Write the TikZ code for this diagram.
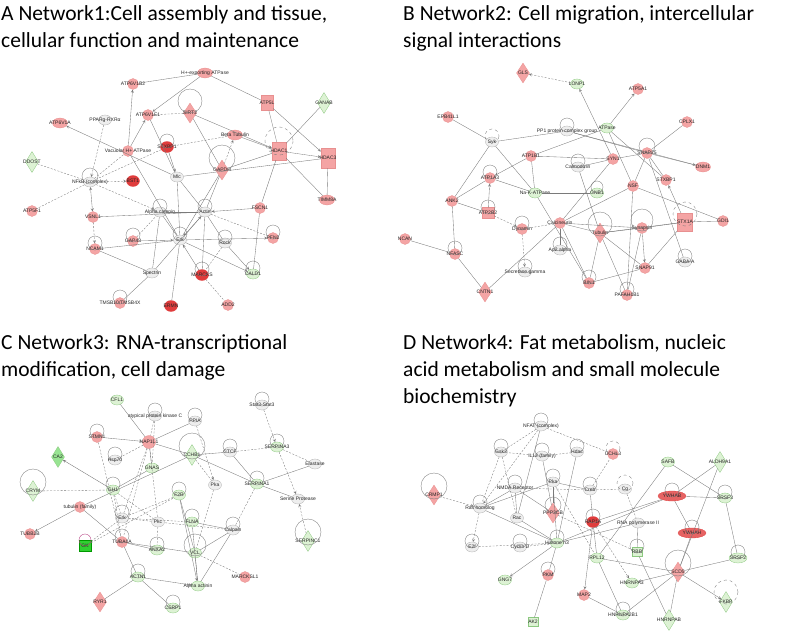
\documentclass[tikz,border=0pt]{standalone}
\usepackage{fontspec}
\setmainfont{Carlito}
\newfontfamily\genefont{Liberation Sans}
\usetikzlibrary{arrows}
\usetikzlibrary{shapes.geometric}

\definecolor{pinkfill}{HTML}{F4A4A4}
\definecolor{pinkline}{HTML}{E89090}
\definecolor{redfill}{HTML}{E03C3C}
\definecolor{greenfill}{HTML}{DDF2D4}
\definecolor{greenline}{HTML}{8CC880}
\definecolor{brightgreen}{HTML}{30D030}
\definecolor{grayfill}{HTML}{EEEEEE}
\definecolor{grayline}{HTML}{B0B0B0}
\definecolor{edgegray}{HTML}{7A7A7A}

\tikzset{
  glab/.style={font=\genefont\fontsize{5}{6}\selectfont, inner sep=0pt, text=black!85},
  gene/.style={inner sep=0pt, line width=0.3pt, label={[glab]center:#1}},
  pc/.style={gene=#1, circle, minimum size=11, fill=pinkfill, draw=pinkline},
  pe/.style={gene=#1, ellipse, minimum width=15, minimum height=10, fill=pinkfill, draw=pinkline},
  rc/.style={gene=#1, ellipse, minimum width=13, minimum height=11, fill=redfill, draw=redfill},
  re/.style={gene=#1, ellipse, minimum width=28, minimum height=10, fill=redfill!80, draw=redfill},
  pd/.style={gene=#1, diamond, aspect=0.6, minimum width=13, minimum height=20, fill=pinkfill, draw=pinkline},
  ps/.style={gene=#1, rectangle, minimum width=12, minimum height=15, fill=pinkfill, draw=pinkline},
  gc/.style={gene=#1, ellipse, minimum width=13, minimum height=10, fill=greenfill, draw=greenline},
  gd/.style={gene=#1, diamond, aspect=0.6, minimum width=13, minimum height=21, fill=greenfill, draw=greenline},
  gs/.style={gene=#1, rectangle, minimum width=10, minimum height=9, fill=greenfill, draw=greenline},
  bg/.style={gene=#1, rectangle, minimum width=12, minimum height=11, fill=brightgreen, draw=green!60!black},
  oc/.style={gene=#1, ellipse, minimum width=13, minimum height=10, fill=grayfill, draw=grayline},
  ed/.style={draw=edgegray, line width=0.35pt},
  dl/.style={ed, dash pattern=on 2pt off 1.5pt},
  lp/.style={draw=edgegray, line width=0.35pt},
  ttl/.style={anchor=base west, inner sep=0pt, font=\fontsize{21.5}{25}\selectfont},
  >=stealth
}

\begin{document}
\begin{tikzpicture}[x=1pt,y=-1pt]
\useasboundingbox (0,0) rectangle (790,634);

% titles
\node[ttl] (ttlA1) at (1,21) {A Network1:Cell assembly and tissue,};
\node[ttl] (ttlA2) at (1,48) {cellular function and maintenance};
\node[ttl] (ttlB1) at (403,21) {B Network2: Cell migration, intercellular};
\node[ttl] (ttlB2) at (403,48) {signal interactions};
\node[ttl] (ttlC1) at (1,349) {C Network3: RNA-transcriptional};
\node[ttl] (ttlC2) at (1,376) {modification, cell damage};
\node[ttl] (ttlD1) at (403,349) {D Network4: Fat metabolism, nucleic};
\node[ttl] (ttlD2) at (403,376) {acid metabolism and small molecule};
\node[ttl] (ttlD3) at (403,403) {biochemistry};

% ---------------- network 1
\node[pe=H+-exporting ATPase] (A-hatp) at (205,73) {};
\node[pc=ATP6V1B2] (A-b2) at (133,84) {};
\node[pc=ATP6V1E1] (A-e1) at (148,115) {};
\node[pd=SIRT2] (A-sirt2) at (190,113) {};
\node[pe=ATP6V1A] (A-v1a) at (60,123) {};
\node[oc=PPARg-RXRα] (A-ppar) at (105,120) {};
\node[pc=Vacuolar H+ ATPase] (A-vac) at (128,151) {};
\node[rc=STXBP1] (A-stx) at (167,147) {};
\node[gd=DDOST] (A-ddost) at (32,162) {};
\node[oc=NFkB (complex)] (A-nfkb) at (90,182) {};
\node[rc=BST1] (A-bst) at (133,181) {};
\node[oc=Mlc] (A-mlc) at (177,177) {};
\node[pe=Beta Tubulin] (A-beta) at (235,135) {};
\node[pd=GAPDH] (A-gapdh) at (222,170) {};
\node[ps=ATP5L] (A-atp5l) at (267,103) {};
\node[gd=GANAB] (A-ganab) at (324,103) {};
\node[ps=HDAC1, minimum width=14, minimum height=18] (A-hdac1) at (279,151) {};
\node[ps=HDAC3, minimum width=14, minimum height=20] (A-hdac3) at (328,158) {};
\node[pe=TIMM8A] (A-timm) at (327,200) {};
\node[pc=ATP5F1] (A-atp5f1) at (32,211) {};
\node[pc=VSNL1] (A-vsnl1) at (93,217) {};
\node[oc=Alpha catenin] (A-alpha) at (160,212) {};
\node[oc=Actin] (A-actin) at (205,212) {};
\node[pc=FSCN1] (A-fscn1) at (260,208) {};
\node[pc=NCAM1] (A-ncam1) at (95,249) {};
\node[pc=GAP43] (A-gap43) at (133,241) {};
\node[oc=Erk] (A-erk) at (180,240) {};
\node[oc=Rock] (A-rock) at (225,243) {};
\node[pc=PFN2] (A-pfn2) at (273,238) {};
\node[oc=Spectrin] (A-spec) at (152,273) {};
\node[rc=MARCKS] (A-marcks) at (202,275) {};
\node[gc=CALD1] (A-cald1) at (253,274) {};
\node[pc=TMSB10/TMSB4X] (A-tmsb) at (120,303) {};
\node[rc=ERMN] (A-ermn) at (171,306) {};
\node[pc=ADD2] (A-add2) at (228,305) {};

\draw[lp] (A-sirt2) ++(0,-12) circle[radius=12];
\draw[lp] (A-stx) ++(0,-6) circle[radius=7];
\draw[lp] (A-nfkb) ++(0,-6) circle[radius=8];
\draw[lp] (A-gapdh) ++(0,-12) circle[radius=13];
\draw[lp, dashed] (A-hdac1) ++(0,-10) circle[radius=14];
\draw[lp] (A-alpha) ++(0,-6) circle[radius=7];
\draw[lp] (A-actin) ++(0,-6) circle[radius=7];
\draw[lp] (A-ncam1) ++(0,-6) circle[radius=7];
\draw[lp] (A-gap43) ++(0,-6) circle[radius=7];
\draw[lp] (A-erk) ++(0,-6) circle[radius=7];
\draw[lp] (A-rock) ++(0,-6) circle[radius=7];
\draw[lp] (A-pfn2) ++(0,-6) circle[radius=7];
\draw[lp] (A-marcks) ++(0,-6) circle[radius=7];
\draw[lp] (A-cald1) ++(0,-6) circle[radius=7];
\draw[lp] (A-tmsb) ++(0,-6) circle[radius=7];

\draw[ed] (A-hatp) -- (A-b2);
\draw[ed,->] (A-hatp) -- (A-e1);
\draw[ed] (A-hatp) -- (A-atp5l);
\draw[ed,->] (A-vac) -- (A-b2);
\draw[ed,->] (A-vac) -- (A-e1);
\draw[ed] (A-e1) -- (A-mlc);
\draw[dl] (A-e1) -- (A-sirt2);
\draw[ed,->] (A-mlc) -- (A-v1a);
\draw[dl,->] (A-ppar) -- (A-nfkb);
\draw[dl] (A-ddost) -- (A-nfkb);
\draw[dl,->] (A-nfkb) -- (A-bst);
\draw[dl] (A-nfkb) -- (A-vac);
\draw[dl] (A-nfkb) -- (A-stx);
\draw[dl] (A-nfkb) -- (A-atp5f1);
\draw[ed,<->] (A-nfkb) -- (A-vsnl1);
\draw[dl,->] (A-nfkb) -- (A-alpha);
\draw[dl,->] (A-vsnl1) -- (A-ncam1);
\draw[ed] (A-vsnl1) -- (A-actin);
\draw[ed] (A-ncam1) -- (A-spec);
\draw[ed] (A-ncam1) -- (A-erk);
\draw[dl] (A-gap43) -- (A-alpha);
\draw[ed,->] (A-gap43) -- (A-erk);
\draw[ed] (A-spec) -- (A-tmsb);
\draw[ed] (A-spec) -- (A-alpha);
\draw[ed] (A-spec) -- (A-actin);
\draw[ed] (A-ermn) -- (A-erk);
\draw[ed] (A-mlc) -- (A-erk);
\draw[ed,->] (A-stx) -- (A-mlc);
\draw[dl] (A-stx) -- (A-beta);
\draw[ed,->] (A-sirt2) -- (A-hdac1);
\draw[ed] (A-sirt2) -- (A-gapdh);
\draw[ed,->] (A-beta) -- (A-hdac1);
\draw[dl,->] (A-gapdh) -- (A-beta);
\draw[ed] (A-atp5l) -- (A-hdac1);
\draw[ed,->] (A-atp5l) -- (A-hdac3);
\draw[ed] (A-ganab) -- (A-hdac1);
\draw[ed,->] (A-hdac1) -- (A-hdac3);
\draw[ed] (A-hdac1) -- (A-gapdh);
\draw[ed] (A-hdac3) -- (A-mlc);
\draw[ed] (A-hdac1) -- (A-fscn1);
\draw[ed] (A-hdac1) -- (A-timm);
\draw[ed] (A-hdac3) -- (A-timm);
\draw[ed] (A-gapdh) -- (A-actin);
\draw[ed] (A-gapdh) -- (A-erk);
\draw[ed,->] (A-fscn1) -- (A-actin);
\draw[ed] (A-fscn1) -- (A-cald1);
\draw[dl] (A-actin) -- (A-pfn2);
\draw[ed,->] (A-erk) -- (A-pfn2);
\draw[ed] (A-actin) -- (A-marcks);
\draw[ed] (A-actin) -- (A-rock);
\draw[ed,->] (A-rock) -- (A-cald1);
\draw[ed,->] (A-erk) -- (A-cald1);
\draw[ed,<-] (A-erk) -- (A-marcks);
\draw[dl] (A-marcks) -- (A-add2);
\draw[ed,<->] (A-actin) -- (A-erk);
\draw[ed] (A-actin) -- (A-alpha);
\draw[ed] (A-alpha) -- (A-erk);
\draw[ed] (A-mlc) -- (A-actin);
\draw[ed] (A-vac) -- (A-erk);
\draw[dl] (A-rock) -- (A-marcks);

% ---------------- network 2
\node[pd=GLS] (B-gls) at (523,73) {};
\node[gc=LONP1] (B-lonp1) at (577,84) {};
\node[pc=ATP5A1] (B-atp5a1) at (638,89) {};
\node[pc=EPB41L1] (B-epb) at (448,117) {};
\node[pc=CPLX1] (B-cplx1) at (687,122) {};
\node[gc=ATPase] (B-atpase) at (607,128) {};
\node[oc=PP1 protein complex group] (B-pp1) at (567,131) {};
\node[oc=Syk] (B-syk) at (492,142) {};
\node[pc=SNAP25] (B-snap25) at (647,153) {};
\node[pc=SYN1] (B-syn1) at (613,159) {};
\node[pc=ATP1B1] (B-atp1b1) at (531,156) {};
\node[oc=Calmodulin] (B-calm) at (578,167) {};
\node[pe=DNM1] (B-dnm1) at (703,167) {};
\node[pc=ATP1A3] (B-atp1a3) at (490,178) {};
\node[pc=STXBP1] (B-stxbp1) at (666,180) {};
\node[pc=NSF] (B-nsf) at (633,186) {};
\node[gc=Na-K-ATPase] (B-nak) at (535,193) {};
\node[gc=GNB1] (B-gnb1) at (597,193) {};
\node[pc=ANK2] (B-ank2) at (452,201) {};
\node[ps=ATP2B2, minimum height=11] (B-atp2b2) at (488,213) {};
\node[ps=STX1A, minimum width=15, minimum height=18] (B-stx1a) at (685,222) {};
\node[pc=GDI1] (B-gdi1) at (723,221) {};
\node[pc=Calcineurin] (B-calc) at (560,223) {};
\node[pc=Synapsin] (B-syna) at (642,228) {};
\node[pc=Dynamin] (B-dyn) at (522,229) {};
\node[pd=Tubulin] (B-tub) at (600,233) {};
\node[pc=NCAN] (B-ncan) at (405,239) {};
\node[oc=Ap2 alpha] (B-ap2) at (560,250) {};
\node[pc=NFASC] (B-nfasc) at (455,254) {};
\node[oc=GABA-A] (B-gaba) at (685,262) {};
\node[pc=SNAP91] (B-snap91) at (645,268) {};
\node[oc=Secretase gamma] (B-sec) at (525,272) {};
\node[pc=BIN1] (B-bin1) at (589,283) {};
\node[pd=CNTN1] (B-cntn1) at (485,292) {};
\node[pc=PAFAH1B1] (B-pafah) at (627,295) {};

\draw[lp] (B-pp1) ++(0,-6) circle[radius=7];
\draw[lp, dashed] (B-syk) ++(0,-6) circle[radius=7];
\draw[lp] (B-snap25) ++(0,-7) circle[radius=8];
\draw[lp] (B-calm) ++(0,-6) circle[radius=7];
\draw[lp] (B-atp1a3) ++(0,-6) circle[radius=7];
\draw[lp] (B-gnb1) ++(0,-6) circle[radius=6];
\draw[lp] (B-atp2b2) ++(0,-6) circle[radius=7];
\draw[lp, dashed] (B-stx1a) ++(0,-8) circle[radius=12];
\draw[lp] (B-syna) ++(0,-8) circle[radius=11];
\draw[lp] (B-dyn) ++(0,-6) circle[radius=7];
\draw[lp] (B-tub) ++(0,-9) circle[radius=12];
\draw[lp] (B-ap2) ++(0,-6) circle[radius=7];
\draw[lp] (B-nfasc) ++(0,-6) circle[radius=7];
\draw[lp] (B-gaba) ++(0,-6) circle[radius=7];
\draw[lp] (B-sec) ++(0,-6) circle[radius=7];
\draw[lp] (B-bin1) ++(0,-6) circle[radius=7];
\draw[lp] (B-pafah) ++(0,-6) circle[radius=7];

\draw[dl,->] (B-lonp1) -- (B-gls);
\draw[ed,<-] (B-lonp1) -- (B-syn1);
\draw[ed] (B-epb) -- (B-syk);
\draw[ed] (B-syk) -- (B-pp1);
\draw[ed] (B-syk) -- (B-ank2);
\draw[ed] (B-syk) -- (B-nak);
\draw[ed,->] (B-atpase) -- (B-atp5a1);
\draw[ed] (B-atpase) -- (B-atp1b1);
\draw[ed] (B-atpase) -- (B-stxbp1);
\draw[ed] (B-atpase) -- (B-nsf);
\draw[ed] (B-cplx1) -- (B-snap25);
\draw[ed,->] (B-snap25) -- (B-dnm1);
\draw[ed] (B-snap25) -- (B-syn1);
\draw[ed] (B-snap25) -- (B-stxbp1);
\draw[ed] (B-snap25) -- (B-nsf);
\draw[ed] (B-pp1) -- (B-snap25);
\draw[ed] (B-pp1) -- (B-dnm1);
\draw[ed,->] (B-atp1b1) -- (B-atp1a3);
\draw[ed] (B-atp1b1) -- (B-nak);
\draw[ed] (B-atp1b1) -- (B-syn1);
\draw[ed] (B-calm) -- (B-syn1);
\draw[ed] (B-calm) -- (B-tub);
\draw[ed] (B-ank2) -- (B-atp2b2);
\draw[ed] (B-ank2) -- (B-atp1a3);
\draw[ed] (B-ank2) -- (B-nfasc);
\draw[ed,->] (B-atp2b2) -- (B-atp1a3);
\draw[dl,->] (B-atp2b2) -- (B-dyn);
\draw[ed] (B-nak) -- (B-atp1a3);
\draw[ed] (B-nak) -- (B-gnb1);
\draw[ed] (B-nak) -- (B-bin1);
\draw[dl,->] (B-dyn) -- (B-sec);
\draw[dl] (B-dyn) -- (B-calc);
\draw[ed] (B-ncan) -- (B-nfasc);
\draw[ed] (B-nfasc) -- (B-cntn1);
\draw[ed] (B-cntn1) -- (B-calc);
\draw[ed] (B-calc) -- (B-bin1);
\draw[ed] (B-calc) -- (B-tub);
\draw[ed] (B-calc) -- (B-syna);
\draw[ed] (B-calc) -- (B-nsf);
\draw[ed] (B-calc) -- (B-ap2);
\draw[ed] (B-calc) -- (B-syn1);
\draw[ed] (B-tub) -- (B-syna);
\draw[ed] (B-tub) -- (B-bin1);
\draw[ed] (B-tub) -- (B-pafah);
\draw[ed] (B-tub) -- (B-stx1a);
\draw[ed] (B-tub) -- (B-snap91);
\draw[ed,->] (B-syna) -- (B-snap91);
\draw[ed] (B-syna) -- (B-stx1a);
\draw[ed] (B-syna) -- (B-pafah);
\draw[ed] (B-stx1a) -- (B-gdi1);
\draw[ed] (B-stx1a) -- (B-snap91);
\draw[ed,->] (B-stx1a) -- (B-stxbp1);
\draw[ed] (B-gaba) -- (B-snap25);
\draw[ed] (B-snap91) -- (B-bin1);
\draw[ed] (B-pafah) -- (B-nsf);
\draw[ed] (B-nsf) -- (B-gdi1);

% ---------------- network 3
\node[gc=CFL1] (C-cfl) at (117,400) {};
\node[oc=atypical protein kinase C] (C-apkc) at (155,416) {};
\node[oc=PPIA] (C-ppia) at (195,421) {};
\node[oc=Stat3-Stat3] (C-stat3) at (262,405) {};
\node[pc=STMN1] (C-stmn1) at (97,437) {};
\node[pc=NAP1L1, minimum size=13] (C-nap) at (149,442) {};
\node[gd=CCHB1] (C-cchb1) at (192,455) {};
\node[oc=CTCF] (C-ctcf) at (230,452) {};
\node[gc=SERPINA3] (C-serpa3) at (277,447) {};
\node[gd=CA2, fill=greenfill!60!brightgreen] (C-ca2) at (58,457) {};
\node[oc=Hsp70] (C-hsp) at (115,460) {};
\node[gc=GNAS] (C-gnas) at (152,468) {};
\node[oc=Elastase] (C-elast) at (315,464) {};
\node[oc=Pka] (C-pka) at (215,485) {};
\node[gc=SERPINA1] (C-serpa1) at (257,484) {};
\node[gd=CRYM] (C-crym) at (33,491) {};
\node[gc=GH1] (C-gh1) at (113,490) {};
\node[gc=F2R] (C-f2r) at (179,495) {};
\node[oc=Serine Protease] (C-serp) at (298,499) {};
\node[pc=tubulin (family)] (C-tubf) at (80,507) {};
\node[oc=Erk] (C-erk) at (122,518) {};
\node[oc=Pkc] (C-pkc) at (158,522) {};
\node[gc=FLNA] (C-flna) at (192,522) {};
\node[oc=Calpain] (C-calp) at (233,530) {};
\node[pc=TUBB2B] (C-tubb) at (30,534) {};
\node[gd=SERPINC1] (C-serpc1) at (308,541) {};
\node[pc=TUBA1A] (C-tuba) at (122,542) {};
\node[bg=GK] (C-gk) at (85,546) {};
\node[gc=ANXA2] (C-anxa2) at (157,550) {};
\node[gc=VCL] (C-vcl) at (195,553) {};
\node[gc=ACTN1] (C-actn) at (138,577) {};
\node[gc=Alpha actinin] (C-aact) at (198,586) {};
\node[pc=MARCKSL1] (C-marcksl1) at (245,577) {};
\node[pd=RYR1] (C-ryr) at (100,602) {};
\node[gc=CSRP1] (C-csrp1) at (173,608) {};

\draw[lp] (C-apkc) ++(0,-6) circle[radius=7];
\draw[lp] (C-ppia) ++(0,-6) circle[radius=7];
\draw[lp] (C-stat3) ++(0,-6) circle[radius=7];
\draw[lp] (C-stmn1) ++(0,-6) circle[radius=7];
\draw[lp] (C-cchb1) ++(0,-9) circle[radius=13];
\draw[lp] (C-ctcf) ++(0,-6) circle[radius=7];
\draw[lp] (C-serpa3) ++(0,-6) circle[radius=7];
\draw[lp] (C-hsp) ++(0,-6) circle[radius=7];
\draw[lp] (C-serpa1) ++(0,-6) circle[radius=7];
\draw[lp] (C-crym) ++(0,-9) circle[radius=13];
\draw[lp] (C-gh1) ++(0,-6) circle[radius=7];
\draw[lp] (C-f2r) ++(0,-6) circle[radius=7];
\draw[lp] (C-erk) ++(0,-6) circle[radius=7];
\draw[lp] (C-flna) ++(0,-6) circle[radius=7];
\draw[lp] (C-calp) ++(0,-6) circle[radius=7];
\draw[lp] (C-serpc1) ++(0,-9) circle[radius=13];
\draw[lp] (C-tuba) ++(0,-6) circle[radius=7];
\draw[lp, draw=magenta!70!black] (C-gk) ++(0,-6) circle[radius=6];
\draw[lp] (C-anxa2) ++(0,-6) circle[radius=7];
\draw[lp] (C-vcl) ++(0,-8) circle[radius=11];
\draw[lp] (C-actn) ++(0,-6) circle[radius=7];
\draw[lp] (C-csrp1) ++(0,-6) circle[radius=7];

\draw[ed] (C-cfl) -- (C-nap);
\draw[dl] (C-apkc) -- (C-nap);
\draw[dl] (C-apkc) -- (C-gnas);
\draw[ed] (C-ppia) -- (C-nap);
\draw[dl,->] (C-ppia) -- (C-pka);
\draw[ed,->] (C-stmn1) -- (C-nap);
\draw[dl] (C-stmn1) -- (C-tuba);
\draw[ed] (C-nap) -- (C-cchb1);
\draw[ed] (C-nap) -- (C-gnas);
\draw[dl] (C-nap) -- (C-erk);
\draw[dl] (C-nap) -- (C-pkc);
\draw[dl] (C-nap) -- (C-tuba);
\draw[dl] (C-nap) -- (C-hsp);
\draw[ed,->] (C-gh1) -- (C-ca2);
\draw[dl] (C-crym) -- (C-gh1);
\draw[ed] (C-tubf) -- (C-cchb1);
\draw[ed,->] (C-tubf) -- (C-tubb);
\draw[ed] (C-tubf) -- (C-tuba);
\draw[dl] (C-gh1) -- (C-erk);
\draw[dl] (C-gh1) -- (C-tuba);
\draw[ed] (C-gh1) -- (C-gnas);
\draw[dl] (C-gh1) -- (C-pkc);
\draw[dl] (C-gk) -- (C-f2r);
\draw[dl] (C-gk) -- (C-erk);
\draw[dl] (C-erk) -- (C-pkc);
\draw[dl] (C-erk) -- (C-flna);
\draw[ed] (C-tuba) -- (C-anxa2);
\draw[ed] (C-tuba) -- (C-actn);
\draw[ed] (C-tuba) -- (C-vcl);
\draw[ed,->] (C-f2r) -- (C-aact);
\draw[ed] (C-f2r) -- (C-vcl);
\draw[dl] (C-f2r) -- (C-erk);
\draw[ed,->] (C-actn) -- (C-aact);
\draw[ed] (C-actn) -- (C-ryr);
\draw[ed] (C-actn) -- (C-csrp1);
\draw[dl,->] (C-stat3) -- (C-serpa3);
\draw[dl,->] (C-serpa3) -- (C-serp);
\draw[dl] (C-serpa3) -- (C-elast);
\draw[dl] (C-serpa3) -- (C-ctcf);
\draw[ed] (C-cchb1) -- (C-serpa1);
\draw[dl] (C-cchb1) -- (C-pka);
\draw[ed] (C-cchb1) -- (C-ctcf);
\draw[ed] (C-ctcf) -- (C-serpa1);
\draw[ed] (C-serpa1) -- (C-elast);
\draw[ed] (C-serpa1) -- (C-serp);
\draw[dl] (C-serpa1) -- (C-calp);
\draw[dl,->] (C-serpc1) -- (C-serp);
\draw[ed] (C-calp) -- (C-flna);
\draw[ed] (C-calp) -- (C-vcl);
\draw[ed] (C-calp) -- (C-aact);
\draw[dl] (C-calp) -- (C-pkc);
\draw[dl] (C-pka) -- (C-vcl);
\draw[dl] (C-vcl) -- (C-marcksl1);
\draw[ed] (C-vcl) -- (C-aact);
\draw[ed] (C-flna) -- (C-aact);
\draw[dl] (C-pkc) -- (C-anxa2);

% ---------------- network 4
\node[oc=NFAT (complex)] (D-nfat) at (541,426) {};
\node[oc=Gsk3] (D-gsk) at (501,452) {};
\node[oc=IL12 (family)] (D-il12) at (542,456) {};
\node[oc=Hdac] (D-hdac) at (577,452) {};
\node[pc=UCHL3] (D-uchl3) at (613,454) {};
\node[gc=SAFB] (D-safb) at (668,462) {};
\node[gd=ALDH9A1] (D-aldh) at (720,462) {};
\node[oc=Pka] (D-pka) at (553,482) {};
\node[oc=NMDA Receptor] (D-nmda) at (515,488) {};
\node[oc=Creb] (D-creb) at (590,490) {};
\node[oc=Cg] (D-cg) at (625,489) {};
\node[pd=CRMP1] (D-crmp1) at (434,495) {};
\node[re=YWHAB] (D-ywhab) at (672,496) {};
\node[gc=SRSF3] (D-srsf3) at (725,498) {};
\node[oc=Ras homolog] (D-ras) at (480,508) {};
\node[pd=PPP3CB] (D-ppp3) at (553,513) {};
\node[oc=Rac] (D-rac) at (517,518) {};
\node[rc=RAP1A] (D-rap1) at (593,522) {};
\node[oc=RNA polymerase II] (D-rnapol) at (638,523) {};
\node[re=YWHAH] (D-ywhah) at (692,533) {};
\node[oc=E2f] (D-e2f) at (472,547) {};
\node[oc=Cyclin D] (D-cyc) at (520,547) {};
\node[gc=Histone h3] (D-hist) at (557,543) {};
\node[gs=RBB] (D-rbb) at (637,552) {};
\node[gc=RPL12] (D-rpl) at (597,558) {};
\node[gc=SRSF2, minimum width=18] (D-srsf2) at (738,558) {};
\node[pd=SCD5] (D-scd5) at (678,572) {};
\node[pc=PKM] (D-pkm) at (548,575) {};
\node[gc=GNG7] (D-gng7) at (505,580) {};
\node[gc=HNRNPA3] (D-hnrnpa3) at (632,583) {};
\node[pc=MAP2] (D-map2) at (584,595) {};
\node[gd=FKBP] (D-fkbp) at (726,602) {};
\node[gc=HNRNPA2B1] (D-a2b1) at (623,615) {};
\node[gd=HNRNPAB] (D-hnrnpab) at (669,620) {};
\node[gs=AK2] (D-ak2) at (533,622) {};

\draw[lp] (D-nfat) ++(0,-6) circle[radius=7];
\draw[lp] (D-gsk) ++(0,-6) circle[radius=7];
\draw[lp] (D-il12) ++(0,-6) circle[radius=7];
\draw[lp] (D-hdac) ++(0,-6) circle[radius=7];
\draw[lp, dashed] (D-uchl3) ++(0,-6) circle[radius=7];
\draw[lp] (D-pka) ++(0,-6) circle[radius=7];
\draw[lp] (D-nmda) ++(0,-6) circle[radius=7];
\draw[lp] (D-creb) ++(0,-6) circle[radius=7];
\draw[lp, dashed] (D-cg) ++(0,-6) circle[radius=8];
\draw[lp] (D-crmp1) ++(0,-9) circle[radius=13];
\draw[lp] (D-ywhab) ++(0,-6) circle[radius=7];
\draw[lp] (D-srsf3) ++(0,-6) circle[radius=7];
\draw[lp] (D-ras) ++(0,-6) circle[radius=7];
\draw[lp] (D-ppp3) ++(0,-8) circle[radius=8];
\draw[lp] (D-rap1) ++(0,-6) circle[radius=7];
\draw[lp] (D-ywhah) ++(0,-6) circle[radius=7];
\draw[lp] (D-e2f) ++(0,-6) circle[radius=7];
\draw[lp] (D-cyc) ++(0,-6) circle[radius=7];
\draw[lp] (D-hist) ++(0,-6) circle[radius=7];
\draw[lp] (D-rbb) ++(0,-6) circle[radius=7];
\draw[lp] (D-srsf2) ++(0,-6) circle[radius=7];
\draw[lp] (D-scd5) ++(0,-9) circle[radius=13];
\draw[lp] (D-pkm) ++(0,-6) circle[radius=7];
\draw[lp, dashed] (D-fkbp) ++(0,-10) circle[radius=12];
\draw[lp] (D-a2b1) ++(0,-6) circle[radius=7];

\draw[dl] (D-nfat) -- (D-gsk);
\draw[dl,->] (D-nfat) -- (D-ras);
\draw[dl] (D-nfat) -- (D-uchl3);
\draw[ed] (D-nfat) -- (D-rac);
\draw[dl] (D-il12) -- (D-gsk);
\draw[dl] (D-il12) -- (D-hdac);
\draw[ed] (D-il12) -- (D-ppp3);
\draw[dl] (D-gsk) -- (D-ras);
\draw[dl] (D-gsk) -- (D-rac);
\draw[dl,->] (D-crmp1) -- (D-ras);
\draw[ed] (D-ras) -- (D-nmda);
\draw[ed] (D-ras) -- (D-pka);
\draw[dl,->] (D-ras) -- (D-e2f);
\draw[ed] (D-ras) -- (D-hist);
\draw[ed] (D-nmda) -- (D-rac);
\draw[ed] (D-nmda) -- (D-ppp3);
\draw[dl] (D-nmda) -- (D-creb);
\draw[ed] (D-pka) -- (D-ppp3);
\draw[ed] (D-pka) -- (D-hist);
\draw[ed] (D-pka) -- (D-creb);
\draw[dl] (D-creb) -- (D-cg);
\draw[ed] (D-creb) -- (D-rap1);
\draw[dl] (D-creb) -- (D-uchl3);
\draw[ed] (D-hdac) -- (D-hist);
\draw[ed] (D-rac) -- (D-hist);
\draw[dl,->] (D-e2f) -- (D-hist);
\draw[dl] (D-cyc) -- (D-hist);
\draw[ed,->] (D-hist) -- (D-gng7);
\draw[ed] (D-hist) -- (D-pkm);
\draw[ed] (D-hist) -- (D-rnapol);
\draw[ed] (D-hist) -- (D-ywhab);
\draw[ed] (D-pkm) -- (D-ak2);
\draw[ed,->] (D-rap1) -- (D-map2);
\draw[ed] (D-rap1) -- (D-rpl);
\draw[ed] (D-rap1) -- (D-ywhab);
\draw[dl,->] (D-rap1) -- (D-hnrnpa3);
\draw[dl] (D-cg) -- (D-rnapol);
\draw[ed] (D-rnapol) -- (D-rbb);
\draw[ed] (D-safb) -- (D-rpl);
\draw[ed] (D-safb) -- (D-srsf3);
\draw[ed] (D-aldh) -- (D-ywhab);
\draw[ed] (D-aldh) -- (D-scd5);
\draw[ed] (D-ywhab) -- (D-srsf3);
\draw[ed] (D-ywhab) -- (D-ywhah);
\draw[ed] (D-srsf3) -- (D-srsf2);
\draw[ed] (D-ywhah) -- (D-scd5);
\draw[ed] (D-scd5) -- (D-srsf2);
\draw[ed,->] (D-scd5) -- (D-fkbp);
\draw[ed] (D-scd5) -- (D-hnrnpab);
\draw[ed] (D-scd5) -- (D-a2b1);
\draw[ed,->] (D-scd5) -- (D-hnrnpa3);
\draw[ed] (D-scd5) -- (D-rpl);
\draw[ed] (D-rbb) -- (D-hnrnpab);
\draw[ed] (D-rpl) -- (D-a2b1);
\draw[ed] (D-map2) -- (D-a2b1);
\draw[dl] (D-ppp3) -- (D-rbb);
\draw[dl] (D-pka) -- (D-rpl);
\end{tikzpicture}
\end{document}
